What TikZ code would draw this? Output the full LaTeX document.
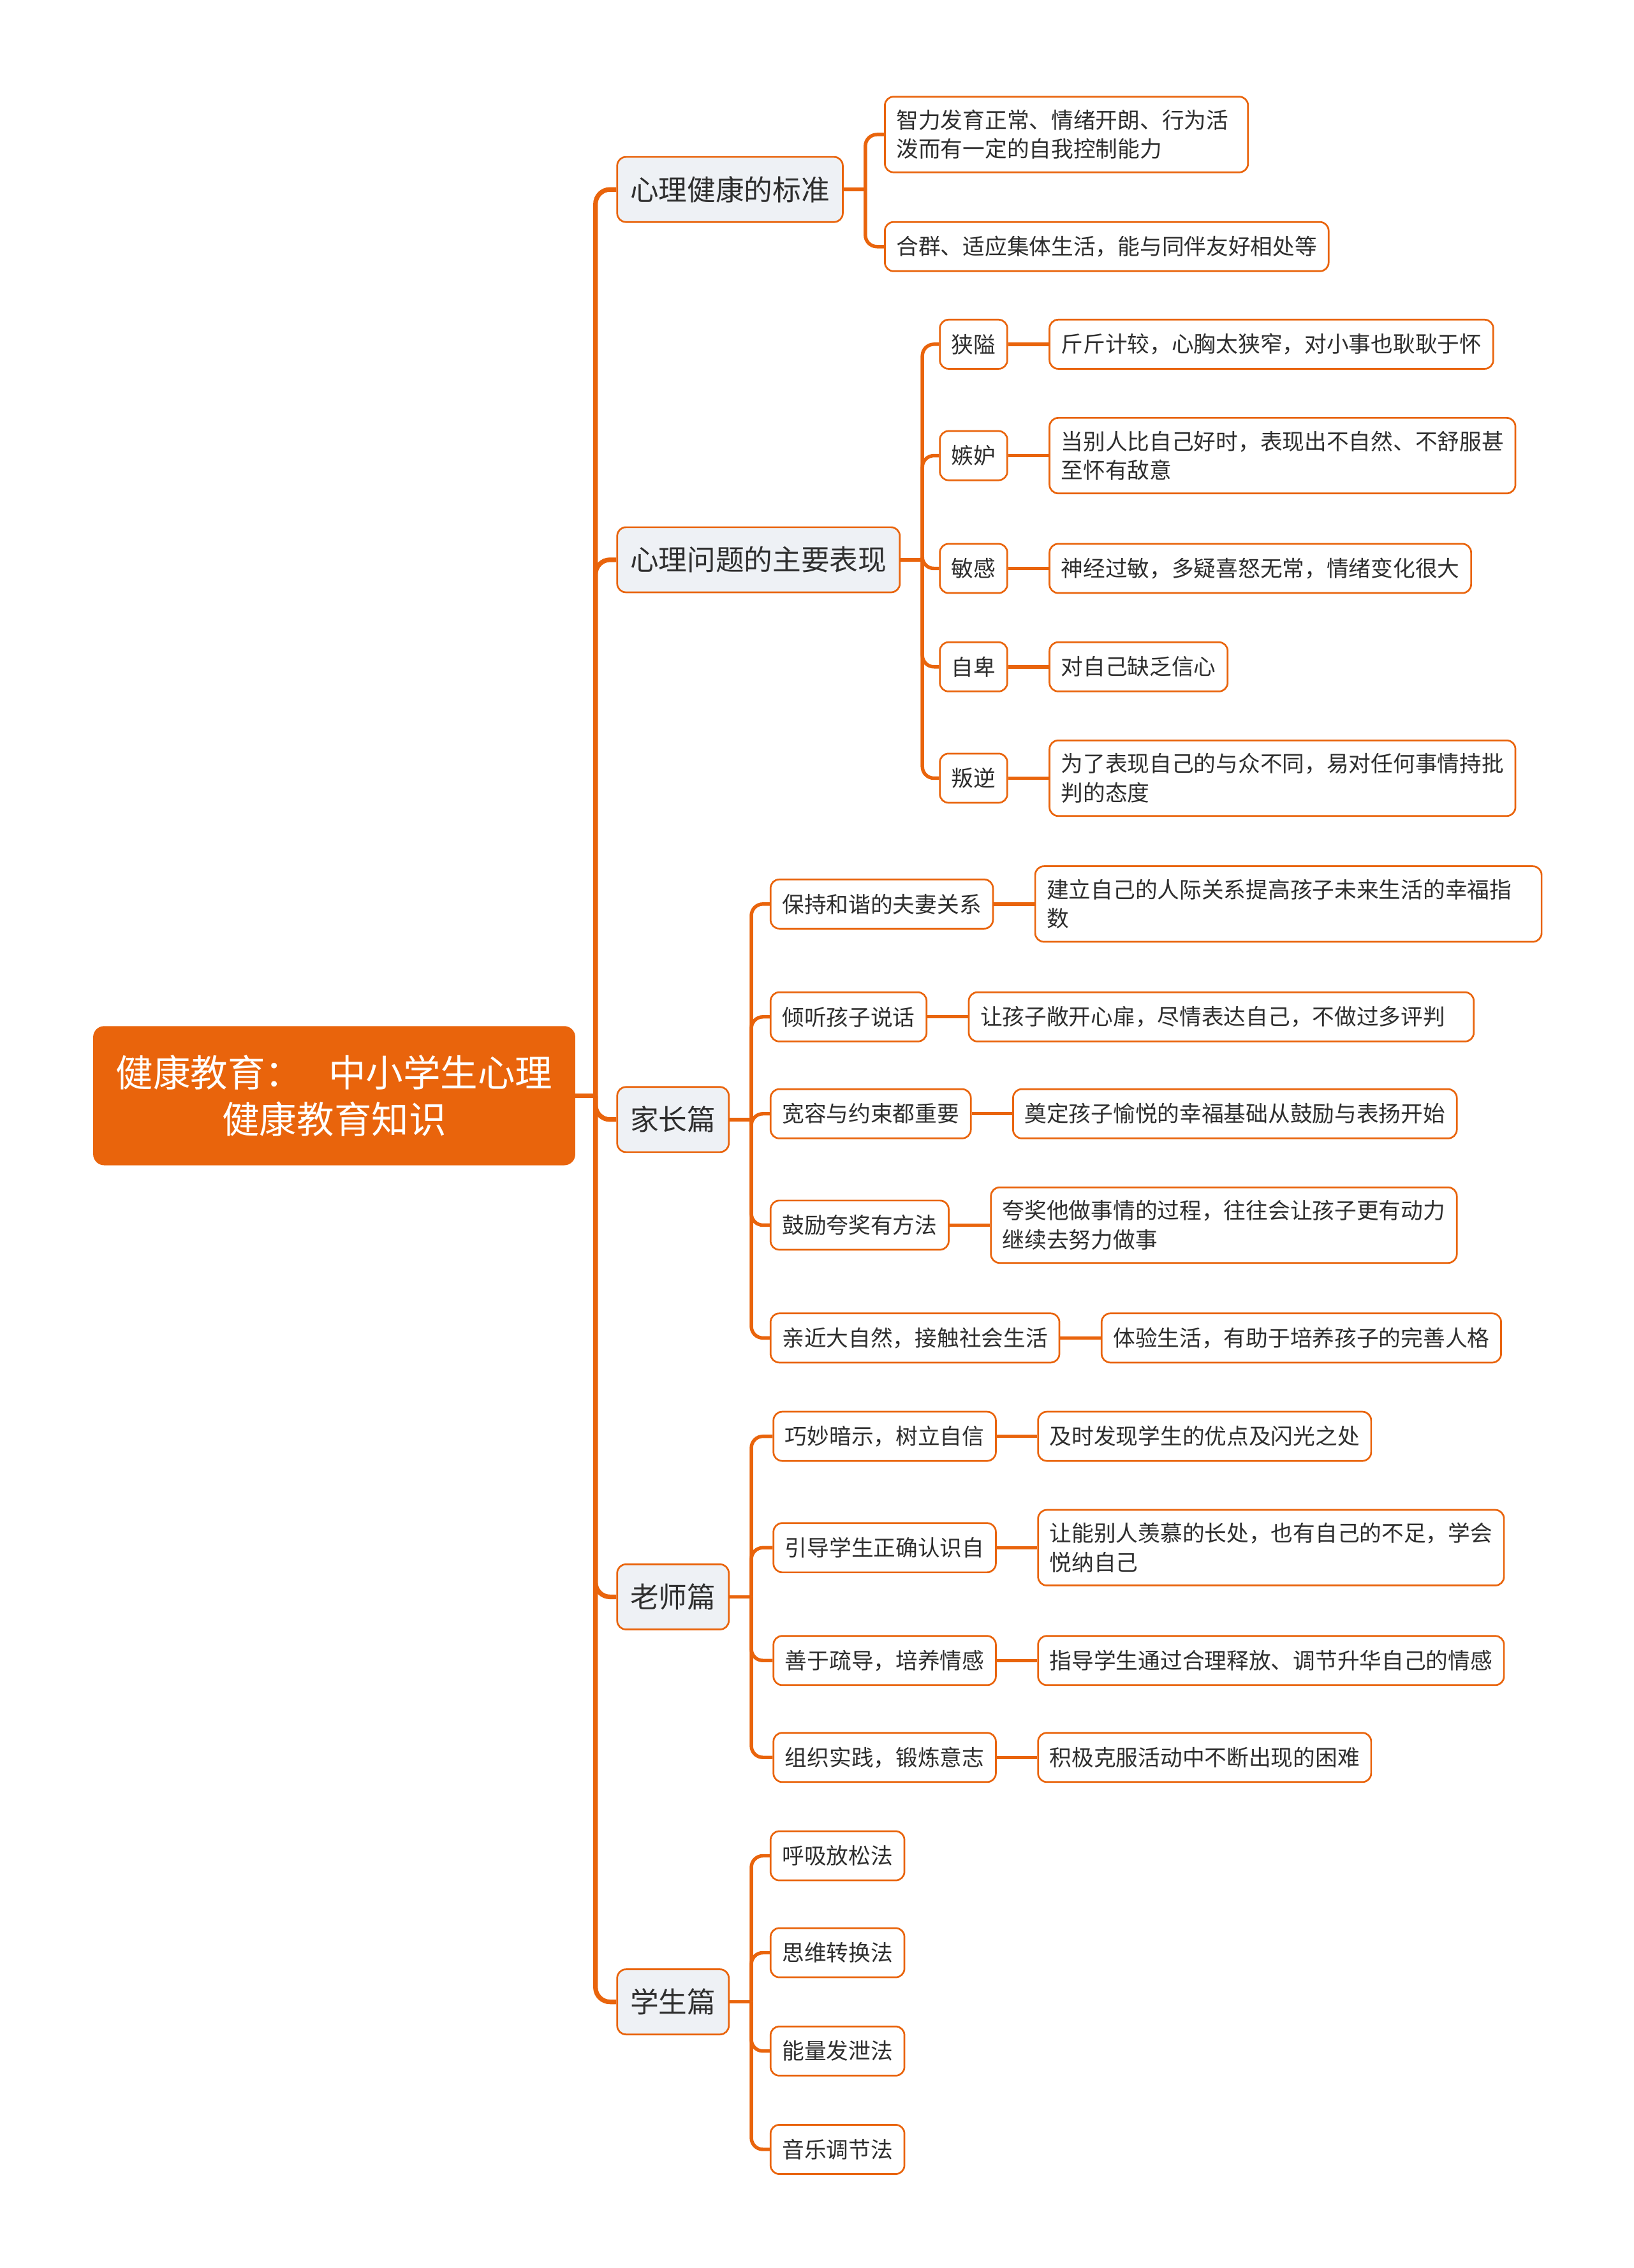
\documentclass[tikz,border=0pt]{standalone}
\usepackage{fontspec}
\setmainfont{Noto Sans CJK SC}
\usetikzlibrary{positioning,calc}
\definecolor{MapOrange}{HTML}{E9640C}
\definecolor{MapGrey}{HTML}{EEF1F5}
\definecolor{MapText}{HTML}{2E2E2E}
\tikzset{
  rootbox/.style={draw=MapOrange,fill=MapOrange,rounded corners=7pt,line width=1.2pt,text=white,align=center,font=\fontsize{25.8}{32}\selectfont,minimum width=332pt,minimum height=95pt},
  topicbox/.style={draw=MapOrange,fill=MapGrey,rounded corners=6pt,line width=1.2pt,text=MapText,font=\fontsize{19.7}{24}\selectfont,inner xsep=9pt,inner ysep=6pt,minimum height=45pt,anchor=west},
  itembox/.style={draw=MapOrange,fill=white,rounded corners=6pt,line width=1.2pt,text=MapText,font=\fontsize{15.3}{20}\selectfont,inner xsep=8pt,inner ysep=9pt,minimum height=34pt,align=left},
  kidbox/.style={itembox,anchor=west},
  trunk/.style={draw=MapOrange,line width=3.2pt},
  twig/.style={draw=MapOrange,line width=2.4pt}
}
\begin{document}
\begin{tikzpicture}[x=1pt,y=-1pt,node distance=28pt]
\fill[white] (0,0) rectangle (1129,1568);
\useasboundingbox (0,0) rectangle (1129,1568);
\node[rootbox] (root) at (231,757.5) {健康教育：\hspace{0.7em}中小学生心理\\健康教育知识};
\node[topicbox] (std) at (426,131) {心理健康的标准};
\node[topicbox] (prob) at (426,387) {心理问题的主要表现};
\node[topicbox] (par) at (426,774) {家长篇};
\node[topicbox] (tea) at (426,1104) {老师篇};
\node[topicbox] (stu) at (426,1384) {学生篇};
\node[kidbox,text width=235pt] (std1) at (611,93) {智力发育正常、情绪开朗、行为活\\泼而有一定的自我控制能力};
\node[kidbox] (std2) at (611,170.5) {合群、适应集体生活，能与同伴友好相处等};
\node[kidbox] (p1) at (649,238) {狭隘};
\node[kidbox] (p2) at (649,315) {嫉妒};
\node[kidbox] (p3) at (649,393) {敏感};
\node[kidbox] (p4) at (649,461) {自卑};
\node[kidbox] (p5) at (649,538) {叛逆};
\node[itembox,right=of p1] (p1x) {斤斤计较，心胸太狭窄，对小事也耿耿于怀};
\node[itembox,right=of p2] (p2x) {当别人比自己好时，表现出不自然、不舒服甚\\至怀有敌意};
\node[itembox,right=of p3] (p3x) {神经过敏，多疑喜怒无常，情绪变化很大};
\node[itembox,right=of p4] (p4x) {对自己缺乏信心};
\node[itembox,right=of p5] (p5x) {为了表现自己的与众不同，易对任何事情持批\\判的态度};
\node[kidbox] (a1) at (532,625) {保持和谐的夫妻关系};
\node[kidbox] (a2) at (532,703) {倾听孩子说话};
\node[kidbox] (a3) at (532,770) {宽容与约束都重要};
\node[kidbox] (a4) at (532,847) {鼓励夸奖有方法};
\node[kidbox] (a5) at (532,925) {亲近大自然，接触社会生活};
\node[itembox,right=of a1,text width=334pt] (a1x) {建立自己的人际关系提高孩子未来生活的幸福指\\数};
\node[itembox,right=of a2,text width=333pt] (a2x) {让孩子敞开心扉，尽情表达自己，不做过多评判};
\node[itembox,right=of a3] (a3x) {奠定孩子愉悦的幸福基础从鼓励与表扬开始};
\node[itembox,right=of a4] (a4x) {夸奖他做事情的过程，往往会让孩子更有动力\\继续去努力做事};
\node[itembox,right=of a5] (a5x) {体验生活，有助于培养孩子的完善人格};
\node[kidbox] (t1) at (534,993) {巧妙暗示，树立自信};
\node[kidbox] (t2) at (534,1070) {引导学生正确认识自};
\node[kidbox] (t3) at (534,1148) {善于疏导，培养情感};
\node[kidbox] (t4) at (534,1215) {组织实践，锻炼意志};
\node[itembox,right=of t1] (t1x) {及时发现学生的优点及闪光之处};
\node[itembox,right=of t2] (t2x) {让能别人羡慕的长处，也有自己的不足，学会\\悦纳自己};
\node[itembox,right=of t3] (t3x) {指导学生通过合理释放、调节升华自己的情感};
\node[itembox,right=of t4] (t4x) {积极克服活动中不断出现的困难};
\node[kidbox] (u1) at (532,1283) {呼吸放松法};
\node[kidbox] (u2) at (532,1350) {思维转换法};
\node[kidbox] (u3) at (532,1418) {能量发泄法};
\node[kidbox] (u4) at (532,1486) {音乐调节法};
\coordinate (hub) at ($(root.east)+(14,0)$);
\draw[trunk] (root.east) -- (hub);
\foreach \n in {std,prob,par,tea,stu}
  \draw[trunk,rounded corners=10pt] (hub) |- (\n.west);
\coordinate (stdhub) at ($(std.east)+(15,0)$);
\draw[twig] (std.east) -- (stdhub);
\foreach \n in {std1,std2}
  \draw[twig,rounded corners=8pt] (stdhub) |- (\n.west);
\coordinate (probhub) at ($(prob.east)+(15,0)$);
\draw[twig] (prob.east) -- (probhub);
\foreach \n in {p1,p2,p3,p4,p5}{
  \draw[twig,rounded corners=8pt] (probhub) |- (\n.west);
  \draw[twig] (\n) -- (\n x);
}
\coordinate (parhub) at ($(par.east)+(15,0)$);
\draw[twig] (par.east) -- (parhub);
\foreach \n in {a1,a2,a3,a4,a5}{
  \draw[twig,rounded corners=8pt] (parhub) |- (\n.west);
  \draw[twig] (\n) -- (\n x);
}
\coordinate (teahub) at ($(tea.east)+(15,0)$);
\draw[twig] (tea.east) -- (teahub);
\foreach \n in {t1,t2,t3,t4}{
  \draw[twig,rounded corners=8pt] (teahub) |- (\n.west);
  \draw[twig] (\n) -- (\n x);
}
\coordinate (stuhub) at ($(stu.east)+(15,0)$);
\draw[twig] (stu.east) -- (stuhub);
\foreach \n in {u1,u2,u3,u4}
  \draw[twig,rounded corners=8pt] (stuhub) |- (\n.west);
\end{tikzpicture}
\end{document}
